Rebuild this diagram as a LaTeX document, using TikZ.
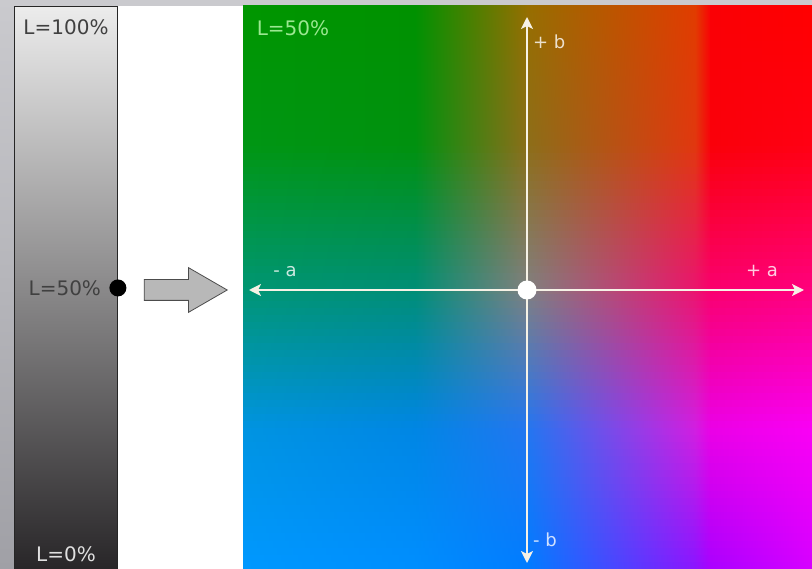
\documentclass[tikz,border=0pt]{standalone}
\usepackage{fontspec}
\setmainfont{DejaVu Sans}
\usetikzlibrary{arrows.meta}
\usetikzlibrary{shapes.arrows}
\usetikzlibrary{positioning}

\definecolor{bgtop}{RGB}{202,202,206}
\definecolor{bgbot}{RGB}{160,160,166}
\definecolor{bartop}{RGB}{236,236,236}
\definecolor{barbot}{RGB}{40,38,40}
\definecolor{axiscol}{RGB}{246,242,230}
\definecolor{greenlbl}{RGB}{155,232,145}

% colour field: row (y = 7,148,290,430,569), column (x = 243,415,527,695,710,812)
\definecolor{f00}{RGB}{0,150,0}
\definecolor{f01}{RGB}{0,145,0}
\definecolor{f02}{RGB}{150,110,0}
\definecolor{f03}{RGB}{225,60,0}
\definecolor{f04}{RGB}{250,0,5}
\definecolor{f05}{RGB}{255,0,0}
\definecolor{f10}{RGB}{0,150,20}
\definecolor{f11}{RGB}{0,145,15}
\definecolor{f12}{RGB}{140,110,25}
\definecolor{f13}{RGB}{225,55,15}
\definecolor{f14}{RGB}{250,0,10}
\definecolor{f15}{RGB}{255,0,20}
\definecolor{f20}{RGB}{0,150,115}
\definecolor{f21}{RGB}{0,142,118}
\definecolor{f22}{RGB}{128,128,128}
\definecolor{f23}{RGB}{235,20,110}
\definecolor{f24}{RGB}{250,0,110}
\definecolor{f25}{RGB}{255,0,125}
\definecolor{f30}{RGB}{0,148,225}
\definecolor{f31}{RGB}{0,134,228}
\definecolor{f32}{RGB}{35,118,240}
\definecolor{f33}{RGB}{210,30,225}
\definecolor{f34}{RGB}{235,0,230}
\definecolor{f35}{RGB}{250,0,245}
\definecolor{f40}{RGB}{0,152,255}
\definecolor{f41}{RGB}{0,142,255}
\definecolor{f42}{RGB}{0,124,255}
\definecolor{f43}{RGB}{140,20,255}
\definecolor{f44}{RGB}{170,0,255}
\definecolor{f45}{RGB}{215,0,255}

\begin{document}
\begin{tikzpicture}[x=1pt,y=-1pt]

	\tikzset{
		lbl/.style={
			font=\fontsize{20}{24}\selectfont,
			inner sep=0pt
		},
		axlbl/.style={
			font=\fontsize{18}{22}\selectfont,
			text=white,
			text opacity=0.8,
			inner sep=0pt
		},
		axis/.style={
			draw=axiscol,
			line width=1.8pt,
			{Stealth[length=12pt,width=12pt,inset=3pt]}-{Stealth[length=12pt,width=12pt,inset=3pt]}
		}
	}

	\useasboundingbox (0,0) rectangle (812,569);
	\shade[top color=bgtop,bottom color=bgbot] (0,0) rectangle (812,569);
	\fill[white] (117,6) rectangle (243,569);

	% a*b* plane at L=50%
	\begin{scope}
		\clip (243,6) rectangle (812,569);
		\foreach \k in {0,...,79} {
			\pgfmathsetmacro\yt{6+7.04*\k}
			\pgfmathsetmacro\ym{\yt+3.5}
			\pgfmathtruncatemacro\i{(\ym>148)+(\ym>290)+(\ym>430)}
			\pgfmathtruncatemacro\ii{\i+1}
			\pgfmathsetmacro\ra{{7,148,290,430,569}[\i]}
			\pgfmathsetmacro\rb{{7,148,290,430,569}[\ii]}
			\pgfmathtruncatemacro\p{max(0,min(100,100*(\rb-\ym)/(\rb-\ra)))}
			\colorlet{m0}{f\i0!\p!f\ii0}
			\colorlet{m1}{f\i1!\p!f\ii1}
			\colorlet{m2}{f\i2!\p!f\ii2}
			\colorlet{m3}{f\i3!\p!f\ii3}
			\colorlet{m4}{f\i4!\p!f\ii4}
			\colorlet{m5}{f\i5!\p!f\ii5}
			\foreach \j/\xa/\xb in {0/243/415,1/415/527,2/527/695,3/695/710,4/710/812} {
				\pgfmathtruncatemacro\jj{\j+1}
				\shade[left color=m\j,right color=m\jj] (\xa,\yt) rectangle (\xb+1,\yt+7.7);
			}
		}
	\end{scope}

	% lightness bar
	\node[draw=black!85,line width=0.9pt,top color=bartop,bottom color=barbot,
		minimum width=103pt,minimum height=563pt,inner sep=0pt,anchor=north west]
		(bar) at (14,6) {};
	\node[circle,fill=black,minimum size=17pt,inner sep=0pt] (dot) at (bar.east) {};

	\node[lbl,text=black!75] (full) at (66,27) {L=100\%};
	\node[lbl,text=black!75,left=8pt of dot] (half) {L=50\%};
	\node[lbl,text=black!12,above=8pt of bar.south] (zero) {L=0\%};

	\node[single arrow,draw=black!70,line width=0.8pt,fill=black!28,inner sep=10pt,
		single arrow head extend=12pt,single arrow tip angle=60,minimum height=83pt,
		anchor=tip] (go) at (228,290) {};

	% axes
	\coordinate (bN) at (527,17);
	\coordinate (bS) at (527,563);
	\coordinate (aW) at (249,290);
	\coordinate (aE) at (804,290);

	\draw[axis] (aW)--(aE);
	\draw[axis] (bS)--(bN);
	\node[circle,fill=white,minimum size=19pt,inner sep=0pt] (o) at (527,290) {};

	\node[lbl,text=greenlbl] (field) at (293,28) {L=50\%};
	\node[axlbl,anchor=west] (bplus) at (533,42) {+ b};
	\node[axlbl,anchor=west] (bminus) at (533,540) {- b};
	\node[axlbl] (aminus) at (285,272) {- a};
	\node[axlbl] (aplus) at (762,271) {+ a};

\end{tikzpicture}
\end{document}
